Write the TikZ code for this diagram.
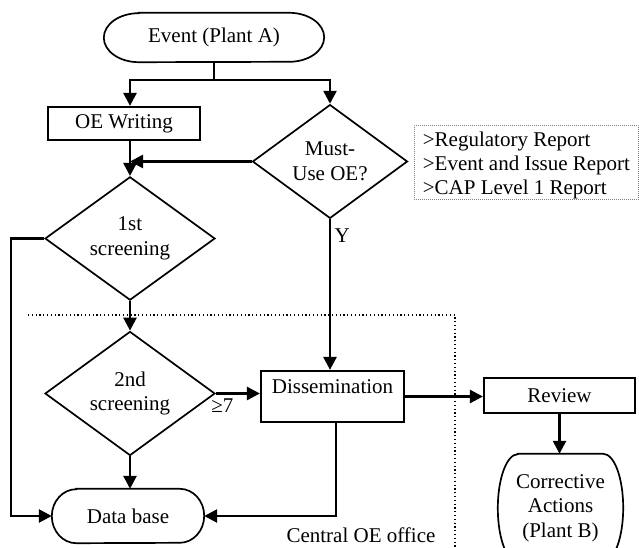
\documentclass[tikz,border=0pt]{standalone}
\usepackage{fontspec}
\setmainfont{Liberation Serif}
\usetikzlibrary{calc,positioning,shapes.geometric,arrows.meta}

% Rahmen fuer Start/Ende-Knoten (Knotenname, Radius x, Radius y)
\newcommand{\termframe}[3]{%
  \draw[termline] ($(#1.north west)+(#2,0)$) -- ($(#1.north east)+(-#2,0)$)
    arc[start angle=90,end angle=-90,x radius=#2pt,y radius=#3pt]
    -- ($(#1.south west)+(#2,0)$)
    arc[start angle=270,end angle=90,x radius=#2pt,y radius=#3pt] -- cycle;}

\begin{document}
\begin{tikzpicture}[x=1pt,y=-1pt,
    every node/.style={font=\fontsize{21}{24.5}\selectfont},
    termline/.style={line width=1.7pt},
    box/.style={draw,line width=2.2pt,inner sep=0pt},
    raute/.style={draw,diamond,line width=1.7pt,inner sep=0pt,align=center},
    flow/.style={line width=2.6pt,-{Triangle[length=13pt,width=13pt]}},
    grenze/.style={line width=1.1pt,dash pattern=on 1.2pt off 2.6pt},
    liste/.style={draw=gray,line width=0.9pt,dash pattern=on 0.9pt off 1.1pt}]

    \useasboundingbox (0,0) rectangle (639,548);

    % Knoten oben
    \node (ev) at (214,37.5) [minimum width=220pt,minimum height=49pt,inner sep=0pt] {Event (Plant A)};
    \termframe{ev}{35}{24.5}
    \coordinate (split) at (214,80);

    \node (oe) at (124,123.5) [box,minimum width=152pt,minimum height=33pt] {OE Writing};
    \node (must) at (330,161.5) [raute,minimum width=155pt,minimum height=103pt] {Must-\\Use OE?};

    \node (rep) at (414,125) [anchor=north west,liste,inner xsep=0pt,inner ysep=0pt,
        minimum width=224pt,minimum height=74pt,align=left,font=\fontsize{21}{24}\selectfont]
        {\rule{0pt}{21pt}>Regulatory Report\\>Event and Issue Report\\>CAP Level 1 Report};

    % Screening
    \node (scr1) at (130,238.5) [raute,minimum width=170pt,minimum height=98pt] {1st\\screening};
    \node (scr2) at (130,393.5) [raute,minimum width=170pt,minimum height=97pt] {2nd\\screening};

    % Knoten unten
    \node (diss) at (332.5,396.5) [box,minimum width=143pt,text height=15pt,text depth=22pt,inner ysep=7pt] {Dissemination};
    \node (rev) at (559.5,395.5) [box,minimum width=151pt,minimum height=35pt] {Review};

    \node (db) at (128,516) [minimum width=152pt,minimum height=54pt,inner sep=0pt] {Data base};
    \termframe{db}{24.5}{27}

    \node (corr) at (560.5,508) [minimum width=125pt,minimum height=108pt,inner sep=0pt,align=center] {Corrective\\Actions\\(Plant B)};
    \termframe{corr}{20}{54}

    % Bereich Central OE office
    \coordinate (o1) at (28,315);
    \coordinate (o2) at (455,315);
    \coordinate (o3) at (455,548);
    \draw[grenze] (o1) -- (o2) -- (o3);
    \node (office) at (361,542.5) [anchor=base,inner sep=0pt] {Central OE office};

    % Verbindungen
    \draw[line width=1.3pt] (ev.south) -- (split);
    \draw[flow] (split) -| (scr1.north |- oe.north);
    \draw[flow] (split) -| (must.north);
    \draw[flow] (scr1.north |- oe.south) -- (scr1.north);
    \draw[flow] (must.west) -- (must.west -| scr1.north);
    \draw[flow] (must.south) -- node[pos=0.11,right] {Y} (must.south |- diss.north);

    \draw[flow] (scr1.west) -- ++(-33,0) |- (db.west);
    \draw[flow] (scr1.south) -- (scr2.north);
    \draw[flow] (scr2.east) -- node[pos=0.15,below,inner sep=4pt] {≥7} (scr2.east -| diss.west);
    \draw[flow] (scr2.south) -- (scr2.south |- db.north);

    \draw[flow] ([xshift=3.5pt]diss.south) |- (db.east);
    \draw[flow] (diss.east) -- (diss.east -| rev.west);
    \draw[flow] (rev.south) -- (rev.south |- corr.north);
\end{tikzpicture}
\end{document}
